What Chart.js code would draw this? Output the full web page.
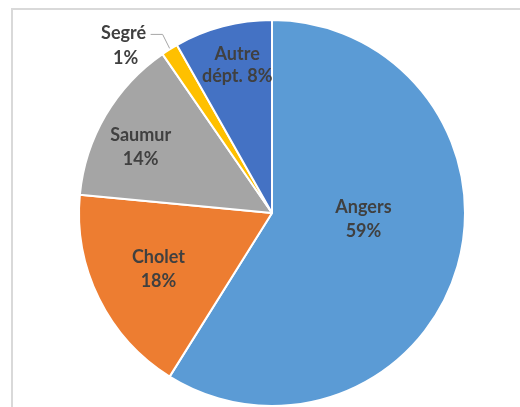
<!DOCTYPE html>
<html>
<head>
<meta charset="utf-8">
<script src="https://cdn.jsdelivr.net/npm/chart.js@4"></script>
<style>
  html, body { margin: 0; padding: 0; background: #fff; }
  #wrap { width: 520px; height: 407px; position: relative; }
</style>
</head>
<body>
<div id="wrap"><canvas id="pieChart" width="520" height="407"></canvas></div>
<script>
// chart data (shares, labels show rounded %)
const categories = ['Angers', 'Cholet', 'Saumur', 'Segré', 'Autre dépt.'];
const shares = [58.9, 17.6, 13.9, 1.4, 8.2];
const sliceColors = ['#5b9bd5', '#ed7d31', '#a5a5a5', '#ffc000', '#4472c4'];

// label placement: fraction of radius and angle shift (deg) from the slice middle
const labelRadius = [0.475, 0.656, 0.762, 0, 0.787];
const labelShift = [-12, 0, -3.7, 0, 1.5];

const frame = {
  id: 'frame',
  beforeDraw(chart) {
    const ctx = chart.ctx;
    ctx.save();
    ctx.strokeStyle = '#d9d9d9';
    ctx.lineWidth = 2;
    ctx.beginPath();
    ctx.moveTo(12, 407);
    ctx.lineTo(12, 9);
    ctx.lineTo(520, 9);
    ctx.stroke();
    ctx.restore();
  }
};

const sliceLabels = {
  id: 'sliceLabels',
  afterDraw(chart) {
    const ctx = chart.ctx;
    const arcs = chart.getDatasetMeta(0).data;
    const total = shares.reduce((a, b) => a + b, 0);
    ctx.save();
    ctx.fillStyle = '#404040';
    ctx.font = 'bold 18px Lato, "Open Sans", sans-serif';
    ctx.textAlign = 'center';
    ctx.textBaseline = 'middle';
    arcs.forEach((arc, i) => {
      const pct = Math.round(shares[i] / total * 100) + '%';
      const mid = (arc.startAngle + arc.endAngle) / 2;
      if (labelRadius[i] === 0) {
        // small slice: label outside with a leader line
        const ex = arc.x + Math.cos(mid) * arc.outerRadius;
        const ey = arc.y + Math.sin(mid) * arc.outerRadius;
        ctx.strokeStyle = '#a6a6a6';
        ctx.lineWidth = 1;
        ctx.beginPath();
        ctx.moveTo(ex, ey - 1);
        ctx.lineTo(ex - 7, ey - 15);
        ctx.lineTo(ex - 19, ey - 15);
        ctx.stroke();
        ctx.fillText(categories[i], ex - 46, ey - 16);
        ctx.fillText(pct, ex - 44, ey + 9);
        return;
      }
      const a = mid + labelShift[i] * Math.PI / 180;
      const r = arc.outerRadius * labelRadius[i];
      const x = arc.x + Math.cos(a) * r;
      const y = arc.y + Math.sin(a) * r;
      if (categories[i] === 'Autre dépt.') {
        ctx.fillText('Autre', x, y - 11);
        ctx.fillText('dépt. ' + pct, x, y + 11);
      } else {
        ctx.fillText(categories[i], x, y - 12);
        ctx.fillText(pct, x, y + 12);
      }
    });
    ctx.restore();
  }
};

new Chart(document.getElementById('pieChart'), {
  type: 'pie',
  data: {
    labels: categories,
    datasets: [{
      data: shares,
      backgroundColor: sliceColors,
      borderColor: '#ffffff',
      borderWidth: 2
    }]
  },
  options: {
    responsive: false,
    animation: false,
    layout: { padding: { left: 78, right: 54, top: 19, bottom: 0 } },
    plugins: {
      legend: { display: false },
      tooltip: { enabled: false }
    }
  },
  plugins: [frame, sliceLabels]
});
</script>
</body>
</html>
